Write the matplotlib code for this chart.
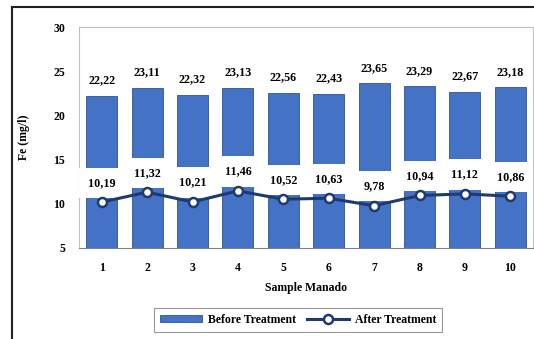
import matplotlib.pyplot as plt
import numpy as np
from matplotlib.lines import Line2D

# ------------------------- data ---------------------------
samples = ['1', '2', '3', '4', '5', '6', '7', '8', '9', '10']
before = [22.22, 23.11, 22.32, 23.13, 22.56, 22.43, 23.65, 23.29, 22.67, 23.18]
after = [10.19, 11.32, 10.21, 11.46, 10.52, 10.63, 9.78, 10.94, 11.12, 10.86]
# -----------------------------------------------------------

plt.rcParams['font.family'] = 'Liberation Serif'
plt.rcParams['font.weight'] = 'bold'
plt.rcParams['axes.labelweight'] = 'bold'
plt.rcParams['font.size'] = 8

bar_col = '#4472C4'
line_col = '#1F3A70'

fig = plt.figure(figsize=(5.34, 3.39), dpi=100)
ax = fig.add_axes([79/534, 1-248/339, 454/534, 221/339])

x = np.arange(1, len(samples)+1)
bars = ax.bar(x, np.array(before)-5, bottom=5, width=0.68, color=bar_col,
              edgecolor='#2F528F', linewidth=0.6, label='Before Treatment', zorder=2)
line, = ax.plot(x, after, color=line_col, lw=2.2, marker='o', ms=6.5,
                mfc='white', mec=line_col, mew=1.8, label='After Treatment', zorder=4)

for xi, b in zip(x, before):
    ax.annotate(('%.2f' % b).replace('.', ','), (xi, b), xytext=(0, 11),
                textcoords='offset points', ha='center', va='center', fontsize=8.7)
for xi, a in zip(x, after):
    ax.annotate(('%.2f' % a).replace('.', ','), (xi, a), xytext=(0, 14),
                textcoords='offset points', ha='center', va='center', fontsize=8.7,
                bbox=dict(boxstyle='square,pad=0.75', fc='white', ec='none'), zorder=3)

ax.set_xlim(0.5, 10.5)
ax.set_ylim(5, 30)
ax.set_yticks([5, 10, 15, 20, 25, 30])
ax.set_xticks(x)
ax.set_xticklabels(samples)
ax.tick_params(length=0, labelsize=8.5)
ax.tick_params(axis='y', pad=10)
ax.tick_params(axis='x', pad=10)
for s in ['top', 'right', 'left']:
    ax.spines[s].set_color('#BFBFBF')
ax.spines['bottom'].set_color('#808080')
ax.set_xlabel('Sample Manado', fontsize=8.5, labelpad=6)
ax.set_ylabel('Fe (mg/l)', fontsize=8.5)
ax.yaxis.set_label_coords(-0.108, 0.5)

leg = fig.legend([bars, line], ['Before Treatment', 'After Treatment'],
                 loc='center', bbox_to_anchor=(298/534, 1-320/339), ncol=2,
                 frameon=True, fancybox=False, handlelength=3.6, handleheight=0.5,
                 handletextpad=0.5, columnspacing=0.9, fontsize=8.5, borderpad=0.5)
leg.get_frame().set_edgecolor('#808080')
leg.get_frame().set_linewidth(0.8)

# outer frame
fig.add_artist(Line2D([12/534, 12/534], [0, 1-7/339], color='#222222', lw=1.5))
fig.add_artist(Line2D([12/534, 1], [1-7/339, 1-7/339], color='#222222', lw=1.5))

plt.savefig('out.png', dpi=100)
plt.close()
